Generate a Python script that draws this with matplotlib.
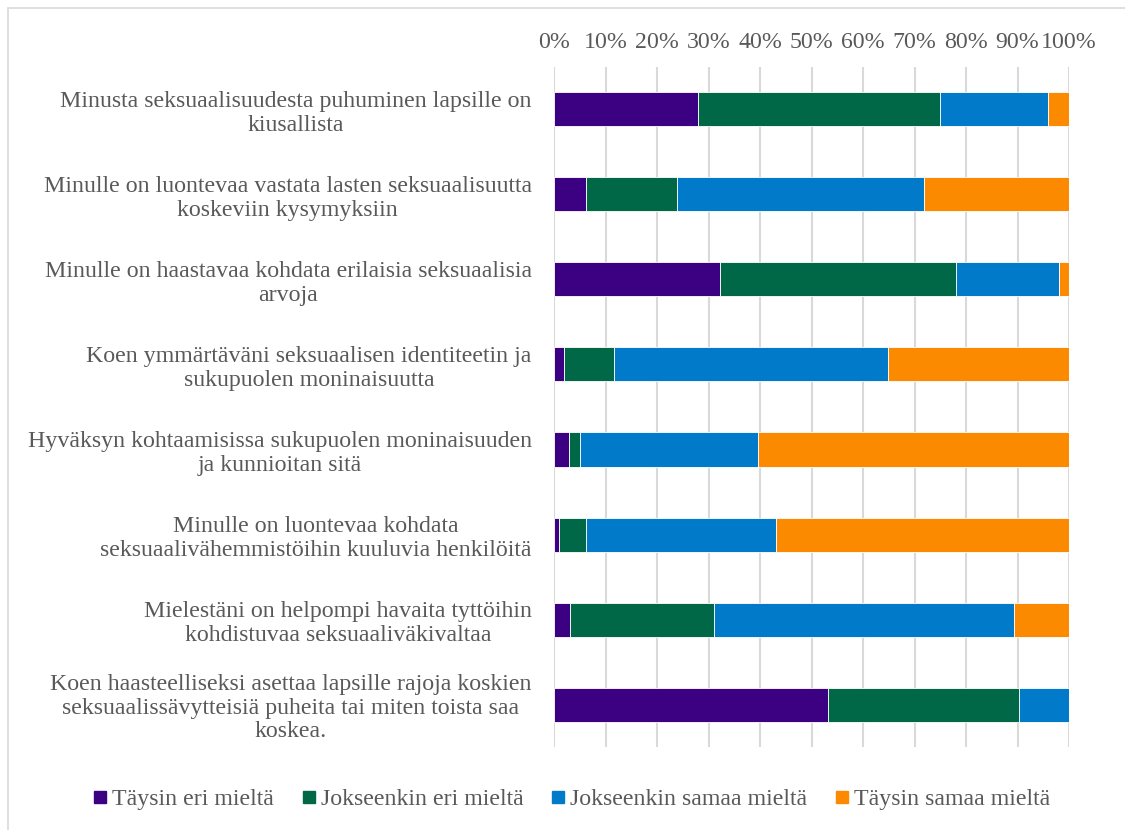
import matplotlib
matplotlib.use("Agg")
import matplotlib.pyplot as plt
from matplotlib.lines import Line2D
from matplotlib.patches import Rectangle
import numpy as np

categories = [
    "Minusta seksuaalisuudesta puhuminen lapsille on\nkiusallista",
    "Minulle on luontevaa vastata lasten seksuaalisuutta\nkoskeviin kysymyksiin",
    "Minulle on haastavaa kohdata erilaisia seksuaalisia\narvoja",
    "Koen ymmärtäväni seksuaalisen identiteetin ja\nsukupuolen moninaisuutta",
    "Hyväksyn kohtaamisissa sukupuolen moninaisuuden\nja kunnioitan sitä",
    "Minulle on luontevaa kohdata\nseksuaalivähemmistöihin kuuluvia henkilöitä",
    "Mielestäni on helpompi havaita tyttöihin\nkohdistuvaa seksuaaliväkivaltaa",
    "Koen haasteelliseksi asettaa lapsille rajoja koskien\nseksuaalissävytteisiä puheita tai miten toista saa\nkoskea.",
]
series_names = ["Täysin eri mieltä", "Jokseenkin eri mieltä",
                "Jokseenkin samaa mieltä", "Täysin samaa mieltä"]
taysin_eri = [28.0, 6.2, 32.3, 2.0, 2.9, 1.0, 3.1, 53.2]
jokseenkin_eri = [46.9, 17.7, 45.8, 9.6, 2.2, 5.2, 28.0, 37.0]
jokseenkin_samaa = [21.0, 47.9, 19.9, 53.2, 34.5, 36.9, 58.2, 9.8]
taysin_samaa = [4.1, 28.2, 2.0, 35.2, 60.4, 56.9, 10.7, 0.0]
xtick_labels = ["0%", "10%", "20%", "30%", "40%", "50%", "60%", "70%", "80%", "90%", "100%"]

colors = ["#3C0082", "#006747", "#007AC9", "#FB8A00"]
text_color = "#595959"
fs = 17.2

plt.rcParams['font.family'] = ['Liberation Serif', 'DejaVu Serif']

fig = plt.figure(figsize=(11.25, 8.3), dpi=100)
ax = fig.add_axes([554/1125, 1-747/830, (1069-554)/1125, (747-67)/830])

y = np.arange(len(categories))
left = np.zeros(len(categories))
for name, vals, c in zip(series_names,
                         [taysin_eri, jokseenkin_eri, jokseenkin_samaa, taysin_samaa],
                         colors):
    vals = np.array(vals)
    ax.barh(y, vals, left=left, height=0.4, color=c, edgecolor='white',
            linewidth=0.6, zorder=3, label=name)
    left = left + vals

ax.set_xlim(0, 100)
ax.set_ylim(len(categories) - 0.5, -0.5)
ax.set_xticks(np.arange(0, 101, 10))
ax.set_xticklabels(xtick_labels)
ax.xaxis.tick_top()
ax.tick_params(axis='x', length=0, pad=10, labelsize=fs, labelcolor=text_color)
ax.set_yticks(y)
ax.set_yticklabels(categories)
ax.tick_params(axis='y', length=0, pad=16, labelsize=fs, labelcolor=text_color)
for lab in ax.get_yticklabels():
    lab.set_multialignment('center')
    lab.set_linespacing(1.16)
ax.grid(axis='x', color='#D9D9D9', linewidth=1.5, zorder=0)
for s in ax.spines.values():
    s.set_visible(False)

handles = [Line2D([], [], marker='s', linestyle='none', markersize=8,
                  markerfacecolor=c, markeredgecolor=c) for c in colors]
leg = fig.legend(handles, series_names, loc='center', ncol=4, frameon=False,
                 bbox_to_anchor=(572/1125, 1-799/830), fontsize=fs,
                 handlelength=0.5, handletextpad=0.25, columnspacing=1.2)
for t in leg.get_texts():
    t.set_color(text_color)

fig.patches.append(Rectangle((8/1125, -0.01), 1.2, 1 - 8/830 + 0.01,
                             transform=fig.transFigure, fill=False,
                             edgecolor='#D9D9D9', linewidth=1.2))

fig.savefig("out.png", dpi=100)
